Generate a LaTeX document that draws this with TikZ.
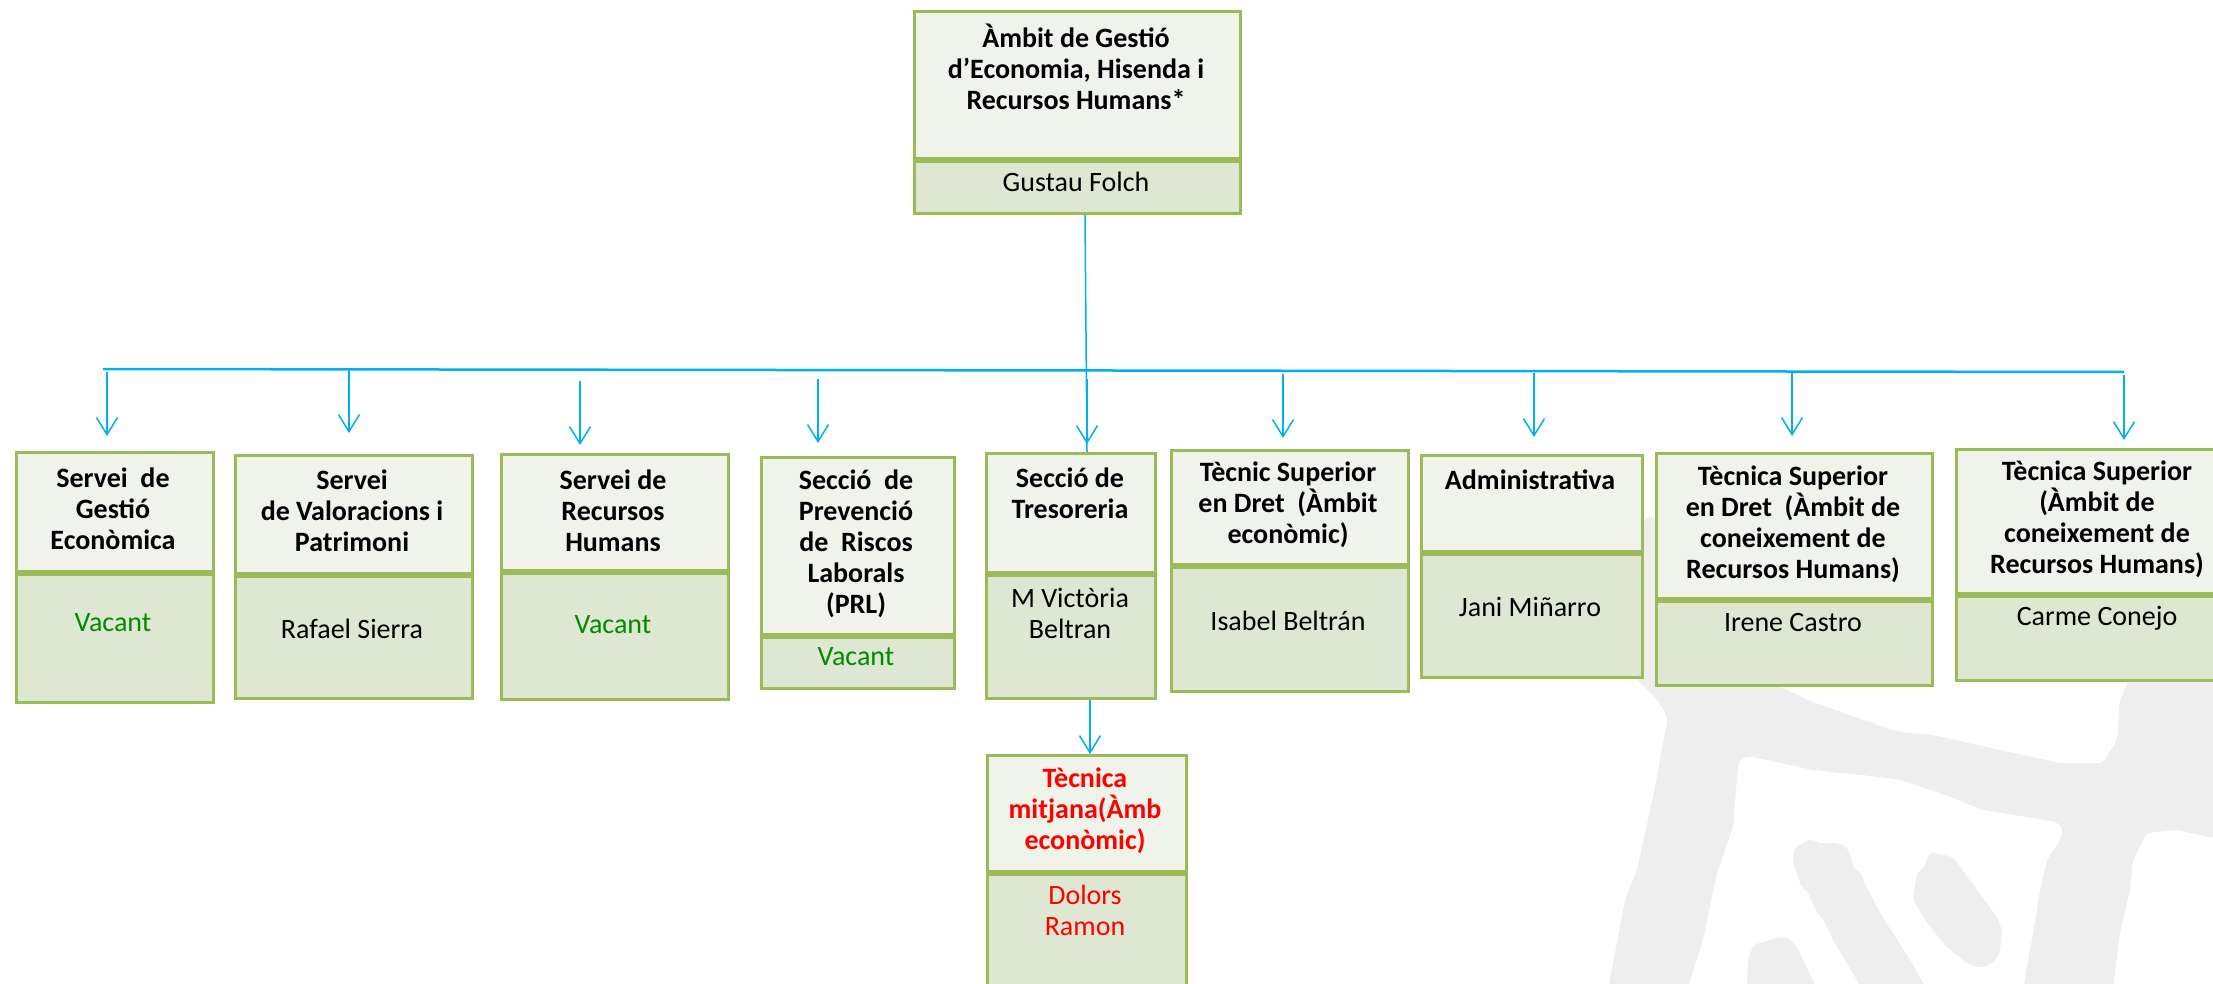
\documentclass[tikz,border=0pt]{standalone}
\usepackage{fontspec}
\setmainfont{Carlito}
\usetikzlibrary{arrows.meta}
\definecolor{bord}{HTML}{9BBB59}
\definecolor{hdrfill}{HTML}{EFF3E9}
\definecolor{bdyfill}{HTML}{DEE7D1}
\definecolor{conn}{HTML}{00B0F0}
\definecolor{vac}{HTML}{008A00}
\definecolor{redtxt}{HTML}{FF0000}
\definecolor{wm}{HTML}{EEEEEE}
\tikzset{
  boxpart/.style={draw=bord, line width=3pt, inner sep=0pt, anchor=north west},
  hdr/.style={boxpart, fill=hdrfill},
  bdy/.style={boxpart, fill=bdyfill},
  ttl/.style={align=center, font=\fontsize{28}{31}\selectfont\bfseries, inner sep=0pt},
  nm/.style={align=center, font=\fontsize{28}{31}\selectfont, inner sep=0pt},
  conline/.style={draw=conn, line width=1.5pt},
  hline/.style={draw=conn, line width=2.5pt},
  arr/.style={conline, -{Straight Barb[length=17pt,width=21pt,line width=1.5pt]}},
  wmshape/.style={fill=wm, draw=none, rounded corners=4pt},
}
% name, x1, x2, ytop, ydiv, ybot
\newcommand\orgbox[6]{%
  \node[hdr, minimum width={#3-#2}, minimum height={#5-#4}] (#1h) at (#2,#4) {};
  \node[bdy, minimum width={#3-#2}, minimum height={#6-#5}] (#1b) at (#1h.south west) {};
}
\begin{document}
\begin{tikzpicture}[x=1pt,y=-1pt]
\useasboundingbox (0,0) rectangle (2213,984);
\clip (0,0) rectangle (2213,984);

% watermark
\path[wmshape] (1650,515) -- (1700,560) -- (1770,682) -- (1813,702) -- (1883,727) -- (1900,732) -- (1933,735) -- (2000,750) -- (2060,763) -- (2103,763) -- (2117,740) -- (2120,700) -- (2130,677) -- (2240,677) -- (2240,838) -- (2213,838) -- (2177,830) -- (2147,833) -- (2133,860) -- (2130,890) -- (2120,933) -- (2113,990) -- (2023,990) -- (2033,933) -- (2040,890) -- (2047,860) -- (2060,840) -- (2063,830) -- (2057,822) -- (1983,810) -- (1940,793) -- (1900,780) -- (1880,777) -- (1813,770) -- (1748,756) -- (1740,760) -- (1738,767) -- (1733,827) -- (1717,873) -- (1703,940) -- (1687,990) -- (1608,990) -- (1625,900) -- (1637,870) -- (1655,787) -- (1665,732) -- (1668,720) -- (1660,703) -- (1630,673) -- (1610,560) -- cycle;
\path[wmshape] (1793,850) -- (1807,840) -- (1815,840) -- (1817,843) -- (1837,843) -- (1847,847) -- (1855,870) -- (1862,873) -- (1863,880) -- (1880,913) -- (1893,933) -- (1910,960) -- (1927,990) -- (1862,990) -- (1847,963) -- (1833,940) -- (1823,918) -- (1818,915) -- (1807,890) -- (1802,888) -- (1798,877) -- (1793,863) -- cycle;
\path[wmshape] (1930,852) -- (1953,857) -- (1977,890) -- (1997,917) -- (2002,930) -- (2000,953) -- (1993,963) -- (1980,968) -- (1967,963) -- (1947,947) -- (1930,927) -- (1913,900) -- (1917,873) -- (1925,867) -- (1927,858) -- cycle;
\path[wmshape] (1747,990) -- (1748,960) -- (1753,945) -- (1780,937) -- (1790,938) -- (1800,953) -- (1817,990) -- cycle;

% boxes
\orgbox{n0}{913}{1239}{10}{157}{209}
\orgbox{n1}{15}{212}{451}{570}{698}
\orgbox{n2}{234}{471}{454}{572}{694}
\orgbox{n3}{500}{727}{453}{569}{695}
\orgbox{n4}{760}{953}{456}{633}{684}
\orgbox{n5}{985}{1154}{452}{571}{694}
\orgbox{n6}{1170}{1407}{449}{563}{687}
\orgbox{n7}{1420}{1641}{454}{550}{673}
\orgbox{n8}{1655}{1931}{452}{597}{681}
\orgbox{n9}{1955}{2240}{448}{592}{676}
\orgbox{n10}{986}{1185}{754}{870}{1000}

% texts
\node[ttl] (t0) at (1076,67) {Àmbit de Gestió\\d’Economia, Hisenda i\\Recursos Humans*};
\node[nm] (p0) at (1076,182) {Gustau Folch};
\node[ttl] (t1) at (113,509) {Servei\ \ de\\Gestió\\Econòmica};
\node[nm, text=vac] (p1) at (113,623) {Vacant};
\node[ttl] (t2) at (352,511) {Servei\\de Valoracions i\\Patrimoni};
\node[nm] (p2) at (352,629) {Rafael Sierra};
\node[ttl] (t3) at (613,511) {Servei de\\Recursos\\Humans};
\node[nm, text=vac] (p3) at (613,625) {Vacant};
\node[ttl] (t4) at (856,544) {Secció\ \ de\\Prevenció\\de\ \ Riscos\\Laborals\\(PRL)};
\node[nm, text=vac] (p4) at (856,657) {Vacant};
\node[ttl] (t5) at (1070,493) {Secció de\\Tresoreria};
\node[nm] (p5) at (1070,613) {M Victòria\\Beltran};
\node[ttl] (t6) at (1288,505) {Tècnic Superior\\en Dret\ \ (Àmbit\\econòmic)};
\node[nm] (p6) at (1288,621) {Isabel Beltrán};
\node[ttl] (t7) at (1530,480) {Administrativa};
\node[nm] (p7) at (1530,607) {Jani Miñarro};
\node[ttl] (t8) at (1793,524) {Tècnica Superior\\en Dret\ \ (Àmbit de\\coneixement de\\Recursos Humans)};
\node[nm] (p8) at (1793,623) {Irene Castro};
\node[ttl] (t9) at (2097,519) {Tècnica Superior\\(Àmbit de\\coneixement de\\Recursos Humans)};
\node[nm] (p9) at (2097,618) {Carme Conejo};
\node[ttl, text=redtxt] (t10) at (1085,811) {Tècnica\\mitjana(Àmb\\econòmic)};
\node[nm, text=redtxt] (p10) at (1085,910) {Dolors\\Ramon};

% connectors
\coordinate (hl) at (103,369);
\coordinate (hr) at (2124,372);
\draw[hline] (hl) -- (hr);
\coordinate (mt) at (1085,0);
\coordinate (mb) at (1087,0);
\draw[conline] (n0b.south -| mt) -- (n5h.north -| mb);

\coordinate (s1) at (107,372);  \coordinate (e1) at (107,436);
\coordinate (s2) at (349,370);  \coordinate (e2) at (349,433);
\coordinate (s3) at (580,381);  \coordinate (e3) at (580,445);
\coordinate (s4) at (818,379);  \coordinate (e4) at (818,443);
\coordinate (s5) at (1087,379); \coordinate (e5) at (1087,444);
\coordinate (s6) at (1283,374); \coordinate (e6) at (1283,438);
\coordinate (s7) at (1534,373); \coordinate (e7) at (1534,437);
\coordinate (s8) at (1792,371); \coordinate (e8) at (1792,436);
\coordinate (s9) at (2124,375); \coordinate (e9) at (2124,440);
\foreach \i in {1,...,9} { \draw[arr] (s\i) -- (e\i); }

\coordinate (bx) at (1090,0);
\draw[arr] (n5b.south -| bx) -- (n10h.north -| bx);
\end{tikzpicture}
\end{document}
